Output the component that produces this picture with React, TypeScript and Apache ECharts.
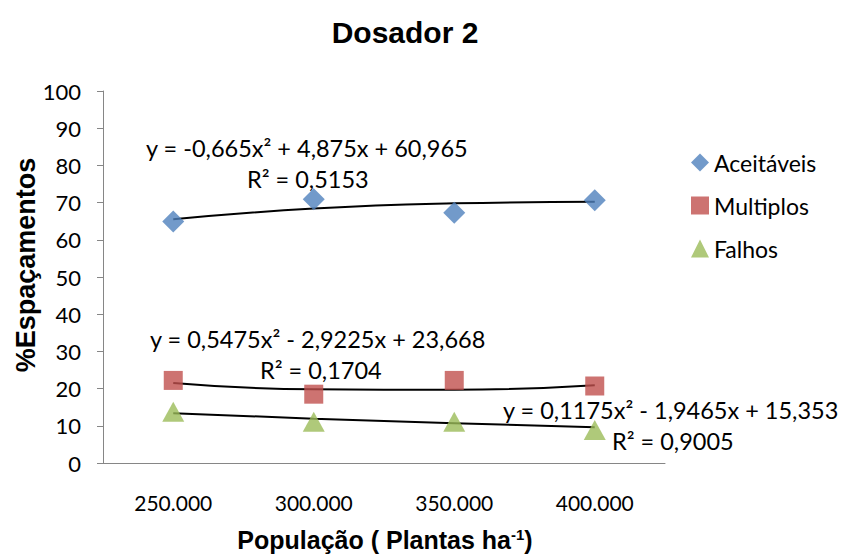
import React, { useEffect, useRef } from "react";
import * as echarts from "echarts";

const categories = ["250.000", "300.000", "350.000", "400.000"];
const aceitaveis = [64.9, 70.9, 67.3, 70.6];
const multiplos = [22.2, 18.5, 22.2, 20.7];
const falhos = [13.8, 11.1, 11.1, 8.9];
const trendAceitaveis = [65.5, 68.4, 69.8, 70.2];
const trendMultiplos = [21.5, 19.8, 19.7, 20.9];
const trendFalhos = [13.4, 11.9, 10.7, 9.6];
const equations = [
  { eq: "y = -0,665x² + 4,875x + 60,965", r2: "R² = 0,5153" },
  { eq: "y = 0,5475x² - 2,9225x + 23,668", r2: "R² = 0,1704" },
  { eq: "y = 0,1175x² - 1,9465x + 15,353", r2: "R² = 0,9005" },
];

const FONT = "Lato, 'Open Sans', sans-serif";
const BOLD = "'Liberation Sans', Arial, sans-serif";

export default function App() {
  const ref = useRef<HTMLDivElement>(null);
  useEffect(() => {
    if (!ref.current) return;
    const chart = echarts.init(ref.current, null, { renderer: "svg" });
    const axisColor = "#868686";
    const trend = (name: string, data: number[]) => ({
      name,
      type: "line",
      data,
      smooth: true,
      symbol: "none",
      z: 1,
      lineStyle: { color: "#000", width: 2 },
      silent: true,
    });
    const eqText = (x: number, y: number, text: string) => ({
      type: "text",
      left: x,
      top: y,
      style: { text, fontFamily: FONT, fontSize: 23.5, fill: "#000" },
    });
    chart.setOption({
      animation: false,
      backgroundColor: "#fff",
      title: {
        text: "Dosador 2",
        left: 400,
        textAlign: "center",
        top: 12,
        textStyle: { fontFamily: BOLD, fontWeight: "bold", fontSize: 30, color: "#000" },
      },
      grid: { left: 103, right: 178, top: 91, bottom: 91 },
      legend: {
        orient: "vertical",
        left: 686,
        top: 146,
        itemGap: 20,
        itemWidth: 18,
        itemHeight: 18,
        data: [
          { name: "Aceitáveis", icon: "diamond" },
          { name: "Multiplos", icon: "rect" },
          { name: "Falhos", icon: "triangle" },
        ],
        textStyle: { fontFamily: FONT, fontSize: 23, color: "#000" },
      },
      xAxis: {
        type: "category",
        data: categories,
        boundaryGap: true,
        axisLine: { lineStyle: { color: axisColor } },
        axisTick: { length: 6, lineStyle: { color: axisColor }, inside: false },
        axisLabel: { fontFamily: FONT, fontSize: 21, color: "#000", margin: 29 },
      },
      yAxis: {
        type: "value",
        min: 0,
        max: 100,
        interval: 10,
        splitLine: { show: false },
        axisLine: { show: true, lineStyle: { color: axisColor } },
        axisTick: { show: true, length: 6, lineStyle: { color: axisColor } },
        axisLabel: { fontFamily: FONT, fontSize: 22, color: "#000", margin: 22 },
      },
      series: [
        trend("tA", trendAceitaveis),
        trend("tM", trendMultiplos),
        trend("tF", trendFalhos),
        {
          name: "Aceitáveis",
          type: "scatter",
          data: aceitaveis,
          symbol: "diamond",
          symbolSize: [22, 22],
          itemStyle: { color: "#4F81BD" },
          z: 3,
        },
        {
          name: "Multiplos",
          type: "scatter",
          data: multiplos,
          symbol: "rect",
          symbolSize: 19,
          itemStyle: { color: "#C0504D" },
          z: 3,
        },
        {
          name: "Falhos",
          type: "scatter",
          data: falhos,
          symbol: "triangle",
          symbolSize: [22, 20],
          itemStyle: { color: "#9BBB59" },
          z: 3,
        },
      ],
      graphic: [
        eqText(146, 136, equations[0].eq),
        eqText(247, 167, equations[0].r2),
        eqText(150, 327, equations[1].eq),
        eqText(260, 358, equations[1].r2),
        eqText(503, 398, equations[2].eq),
        eqText(612, 429, equations[2].r2),
        {
          type: "text",
          x: 26,
          y: 265,
          rotation: Math.PI / 2,
          style: {
            text: "%Espaçamentos",
            fontFamily: BOLD,
            fontWeight: "bold",
            fontSize: 27,
            fill: "#000",
            align: "center",
            verticalAlign: "middle",
          },
        },
        {
          type: "text",
          x: 385,
          y: 540,
          style: {
            text: "{a|População ( Plantas ha}{s|-1}{a|)}",
            align: "center",
            verticalAlign: "middle",
            rich: {
              a: { fontFamily: BOLD, fontWeight: "bold", fontSize: 25, fill: "#000" },
              s: { fontFamily: BOLD, fontWeight: "bold", fontSize: 15, fill: "#000", padding: [0, 0, 12, 0] },
            },
          },
        },
      ],
    });
    return () => chart.dispose();
  }, []);
  return (
    <div
      ref={ref}
      style={{ position: "absolute", left: 0, top: 0, width: 843, height: 554 }}
    />
  );
}
